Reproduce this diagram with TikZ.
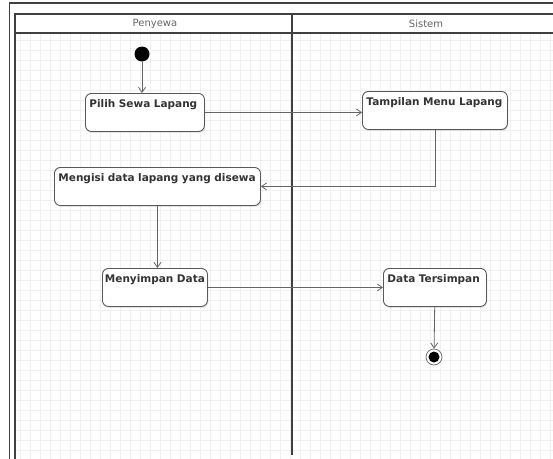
\documentclass[tikz,border=0pt]{standalone}
\usepackage{fontspec}
\setmainfont{DejaVu Sans}
\usetikzlibrary{arrows.meta,shadows}

\tikzset{
  activity/.style={draw=black!65, line width=0.9pt, rounded corners=6pt, fill=white,
    anchor=north west, align=left, inner xsep=4pt, inner ysep=1.5pt,
    text height=13pt, text depth=22pt, text=black!80,
    font=\bfseries\fontsize{10.5}{12}\selectfont,
    drop shadow={opacity=0.2, shadow xshift=1pt, shadow yshift=-1.5pt}},
  startstate/.style={circle, fill=black, inner sep=0pt, minimum size=15pt},
  endstate/.style={circle, draw=black!55, line width=0.8pt, fill=white, inner sep=0pt,
    minimum size=16pt, path picture={\fill[black] (path picture bounding box.center) circle (5.5pt);}},
  flow/.style={draw=black!60, line width=0.8pt, -{Straight Barb[length=5pt,width=7pt]}},
  lane/.style={draw=black!75, line width=1.2pt},
  lanelabel/.style={text=black!60, font=\fontsize{10}{12}\selectfont},
}

\begin{document}
\begin{tikzpicture}[x=1pt, y=-1pt]
    \useasboundingbox (0,0) rectangle (553,458);
    \clip (0,0) rectangle (553,458);
    \fill[white] (0,0) rectangle (553,458);

    % Grid
    \foreach \x in {20,30,...,550} {
        \draw[black!6, line width=0.5pt] (\x,34) -- (\x,460);
    }
    \foreach \y in {40,50,...,450} {
        \draw[black!6, line width=0.5pt] (16,\y) -- (560,\y);
    }

    % Swimlanes
    \draw[lane] (9.5,470) -- (9.5,3) -- (560,3);
    \draw[lane] (15,470) -- (15,14) -- (560,14);
    \draw[lane, line width=1.8pt] (15,33) -- (560,33);
    \draw[lane, line width=1.8pt] (292,14) -- (292,455);
    \node[lanelabel] (penyewa) at (155,24) {Penyewa};
    \node[lanelabel] (sistem) at (426,24) {Sistem};

    % Activities
    \node[startstate] (start) at (142,54) {};
    \node[activity, text width=111pt] (pilih) at (85,93) {Pilih Sewa Lapang};
    \node[activity, text width=137pt] (tampilan) at (362,91) {Tampilan Menu Lapang};
    \node[activity, text width=198pt] (mengisi) at (54,167) {Mengisi data lapang yang disewa};
    \node[activity, text width=100pt, inner xsep=2.5pt] (menyimpan) at (102,268) {\mbox{Menyimpan Data}};
    \node[activity, text width=95pt] (tersimpan) at (383,268) {Data Tersimpan};
    \node[endstate] (end) at (434,357) {};

    % Flows
    \draw[flow] (start) -- (start |- pilih.north);
    \draw[flow] (pilih.east) -- (pilih.east -| tampilan.west);
    \draw[flow] (tampilan.south) |- (mengisi.east);
    \draw[flow] (mengisi.south) -- (mengisi.south |- menyimpan.north);
    \draw[flow] (menyimpan.east) -- (menyimpan.east -| tersimpan.west);
    \draw[flow] (tersimpan) -- (end);
\end{tikzpicture}
\end{document}
